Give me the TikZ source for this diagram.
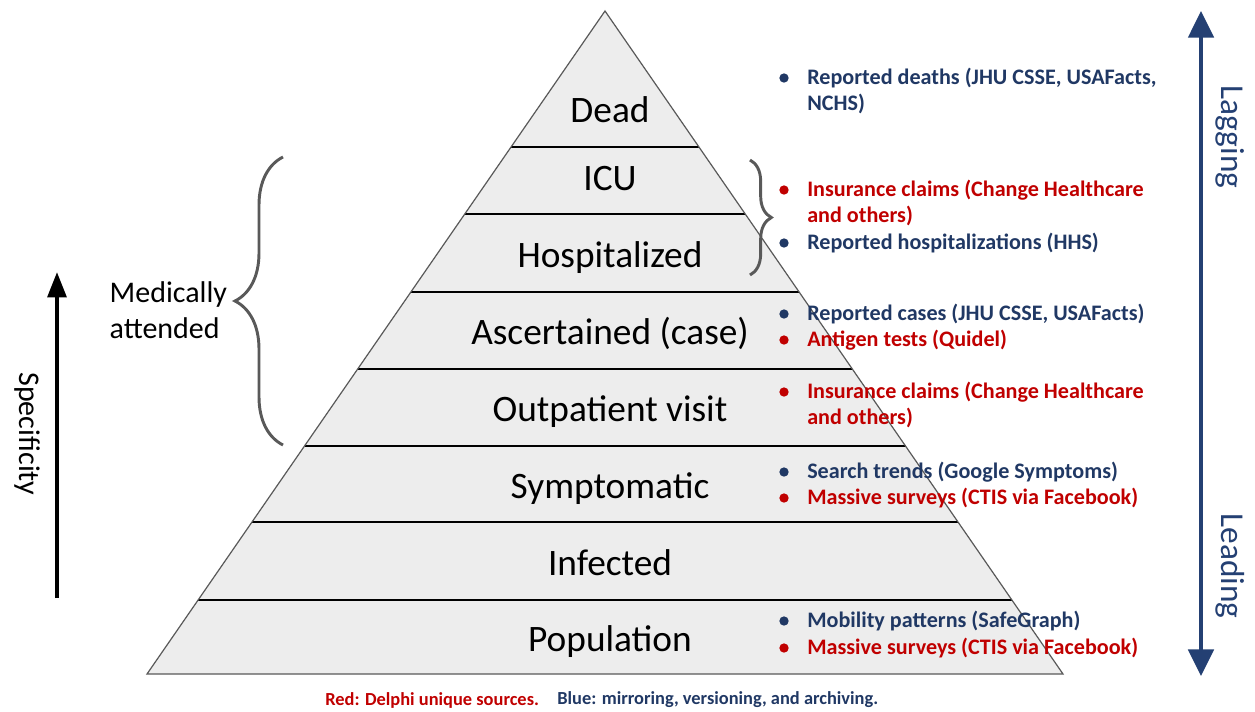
\documentclass[tikz,border=0pt]{standalone}
\usepackage{fontspec}
\setmainfont{Carlito}
\usetikzlibrary{calc,arrows.meta,decorations.pathreplacing}

\definecolor{srcred}{RGB}{192,0,0}
\definecolor{srcblue}{RGB}{32,56,100}
\definecolor{axisblue}{RGB}{36,64,115}
\definecolor{levelfill}{RGB}{237,237,237}
\definecolor{bracegray}{RGB}{89,89,89}

\tikzstyle{level}=[anchor=base,font=\fontsize{28}{33}\selectfont]
\tikzstyle{divider}=[draw,black,line width=1.1pt]
\tikzstyle{source}=[anchor=west,align=left,inner sep=0pt,font=\fontsize{16.6}{19.5}\selectfont\bfseries]
\tikzstyle{dot}=[circle,fill,inner sep=0pt,minimum size=7pt]
\tikzstyle{curly}=[draw=bracegray,line width=2.2pt,decorate]
\tikzstyle{side}=[font=\fontsize{22.5}{27}\selectfont]
\tikzstyle{legend}=[anchor=west,inner sep=0pt,font=\fontsize{13.8}{16}\selectfont\bfseries]

\begin{document}
\begin{tikzpicture}[x=0.75pt,y=-0.75pt]
    \useasboundingbox (0,0) rectangle (1255,711);
    % First the pyramid
    \coordinate (apex) at (605,11);
    \coordinate (bl) at (147,674);
    \coordinate (br) at (1063,674);
    \fill[levelfill] (apex) -- (bl) -- (br) -- cycle;
    % Dividers between the levels
    \foreach \y/\name in {147/a,214/b,292/c,369/d,446/e,522/f,600/g} {
        \pgfmathsetmacro\f{(\y-11)/663}
        \coordinate (l\name) at ($(apex)!\f!(bl)$);
        \coordinate (r\name) at ($(apex)!\f!(br)$);
        \path[divider] (l\name) -- (r\name);
    }
    \draw[bracegray,line width=0.9pt] (apex) -- (bl) -- (br) -- cycle;
    % Level names
    \foreach \y/\name/\txt in {122/dead/Dead, 190/icu/ICU, 267/hosp/Hospitalized,
        344/case/Ascertained (case), 421/outp/Outpatient visit, 498/sympt/Symptomatic,
        575/infect/Infected, 651/pop/Population}
        \node[level] (\name) at (610,\y) {\txt};

    % Data sources with their bullets
    \foreach \yb/\yt/\col/\txt [count=\i] in {
        78/91/srcblue/{Reported deaths (JHU CSSE, USAFacts,\\NCHS)},
        190/203/srcred/{Insurance claims (Change Healthcare\\and others)},
        243/243/srcblue/{Reported hospitalizations (HHS)},
        314/314/srcblue/{Reported cases (JHU CSSE, USAFacts)},
        340/340/srcred/{Antigen tests (Quidel)},
        392/405/srcred/{Insurance claims (Change Healthcare\\and others)},
        472/472/srcblue/{Search trends (Google Symptoms)},
        498/498/srcred/{Massive surveys (CTIS via Facebook)},
        621/621/srcblue/{Mobility patterns (SafeGraph)},
        648/648/srcred/{Massive surveys (CTIS via Facebook)}} {
        \node[dot,\col] (dot\i) at (784,\yb) {};
        \node[source,text=\col] (src\i) at (807,\yt) {\txt};
    }

    % Specificity axis
    \coordinate (specBot) at (57,598);
    \coordinate (specTop) at (57,272);
    \draw[line width=3pt,-{Triangle[length=19pt,width=14pt]}] (specBot) -- (specTop);
    \node[side,rotate=-90] (spec) at (27,434) {Specificity};

    % Medically attended brace
    \coordinate (braceBot) at (283,445);
    \coordinate (braceTop) at (283,157);
    \path[curly,decoration={brace,amplitude=36pt}] (braceBot) -- (braceTop);
    \node[side,anchor=west,align=left] (medic) at (105,310) {Medically\\attended};

    % Small brace for ICU and hospitalized
    \coordinate (hospTop) at (750,160);
    \coordinate (hospBot) at (750,275);
    \path[curly,decoration={brace,amplitude=16pt}] (hospTop) -- (hospBot);

    % Lagging / leading axis
    \coordinate (lagTop) at (1201,11);
    \coordinate (lagBot) at (1201,676);
    \draw[axisblue,line width=3pt,{Triangle[length=20pt,width=19pt]}-{Triangle[length=20pt,width=19pt]}] (lagBot) -- (lagTop);
    \node[rotate=-90,text=axisblue,font=\fontsize{25}{28}\selectfont] (lag) at (1230,137) {Lagging};
    \node[rotate=-90,text=axisblue,font=\fontsize{25}{28}\selectfont] (lead) at (1230,566) {Leading};

    % Legend
    \node[legend,text=srcred] (legRed) at (325,700) {Red: Delphi unique sources.};
    \node[legend,text=srcblue] (legBlue) at (557,700) {Blue: mirroring, versioning, and archiving.};
\end{tikzpicture}
\end{document}
